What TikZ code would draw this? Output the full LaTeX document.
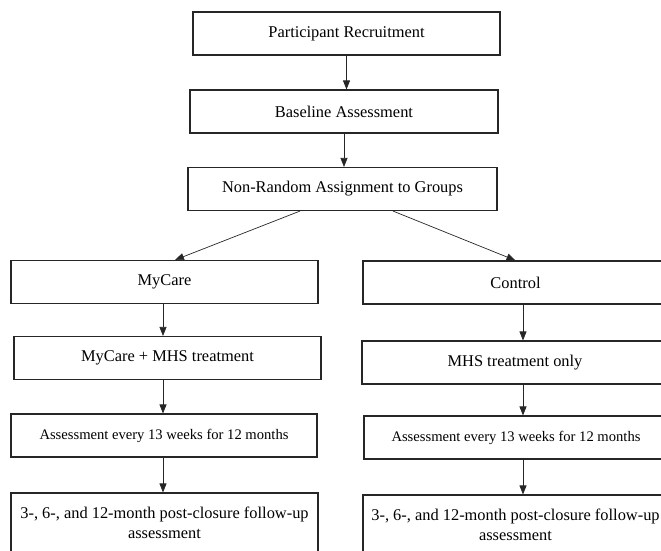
\documentclass[tikz,border=0pt]{standalone}
\usepackage{fontspec}
\setmainfont{Liberation Serif}
\usetikzlibrary{arrows.meta}

\tikzset{
  box/.style={draw=black!85, line width=1.1pt, rectangle, align=center,
    minimum height=43pt, inner sep=2pt, font=\fontsize{16.4}{19.5}\selectfont},
  smallbox/.style={box, font=\fontsize{14.6}{17}\selectfont},
  flow/.style={draw=black!85, line width=0.7pt, -{Triangle[length=9pt,width=7pt]}}
}

\begin{document}
\begin{tikzpicture}[x=1pt,y=-1pt]

\useasboundingbox (0,0) rectangle (661,550);
\clip (0,0) rectangle (661,550);

% common steps
\node[box, minimum width=307pt] (recruit) at (346.5,33.5) {Participant Recruitment};
\node[box, minimum width=308pt] (baseline) at (344,111.5) {Baseline Assessment};
\node[box, minimum width=309pt] (assign) at (342.5,189) {Non-Random Assignment to Groups};

% MyCare arm
\node[box, minimum width=307pt] (mycare) at (164.5,282) {MyCare};
\node[box, minimum width=307pt] (mycaremhs) at (167.5,358) {MyCare + MHS treatment};
\node[smallbox, minimum width=306pt] (assessL) at (164,435.5) {Assessment every 13 weeks for 12 months};
\node[box, minimum width=307pt, minimum height=60pt] (followL) at (164.5,523)
  {3-, 6-, and 12-month post-closure follow-up\\assessment};

% Control arm
\node[box, minimum width=305pt] (control) at (515.5,282.5) {Control};
\node[box, minimum width=306pt] (mhs) at (515,362.5) {MHS treatment only};
\node[smallbox, minimum width=304pt] (assessR) at (516,437.5) {Assessment every 13 weeks for 12 months};
\node[box, minimum width=305pt, minimum height=60pt] (followR) at (515.5,525)
  {3-, 6-, and 12-month post-closure follow-up\\assessment};

\draw[flow] (recruit.south) -- (recruit.south |- baseline.north);
\draw[flow] (baseline.south) -- (baseline.south |- assign.north);

\draw[flow] ([xshift=-42.5pt]assign.south) -- ([xshift=10.5pt]mycare.north);
\draw[flow] ([xshift=50.5pt]assign.south) -- (control.north);

\draw[flow] ([xshift=-1.5pt]mycare.south) -- ([xshift=-1.5pt]mycare.south |- mycaremhs.north);
\draw[flow] ([xshift=-4.5pt]mycaremhs.south) -- ([xshift=-4.5pt]mycaremhs.south |- assessL.north);
\draw[flow] ([xshift=-1pt]assessL.south) -- ([xshift=-1pt]assessL.south |- followL.north);

\draw[flow] ([xshift=7.5pt]control.south) -- ([xshift=7.5pt]control.south |- mhs.north);
\draw[flow] ([xshift=8pt]mhs.south) -- ([xshift=8pt]mhs.south |- assessR.north);
\draw[flow] ([xshift=7pt]assessR.south) -- ([xshift=7pt]assessR.south |- followR.north);

\end{tikzpicture}
\end{document}
